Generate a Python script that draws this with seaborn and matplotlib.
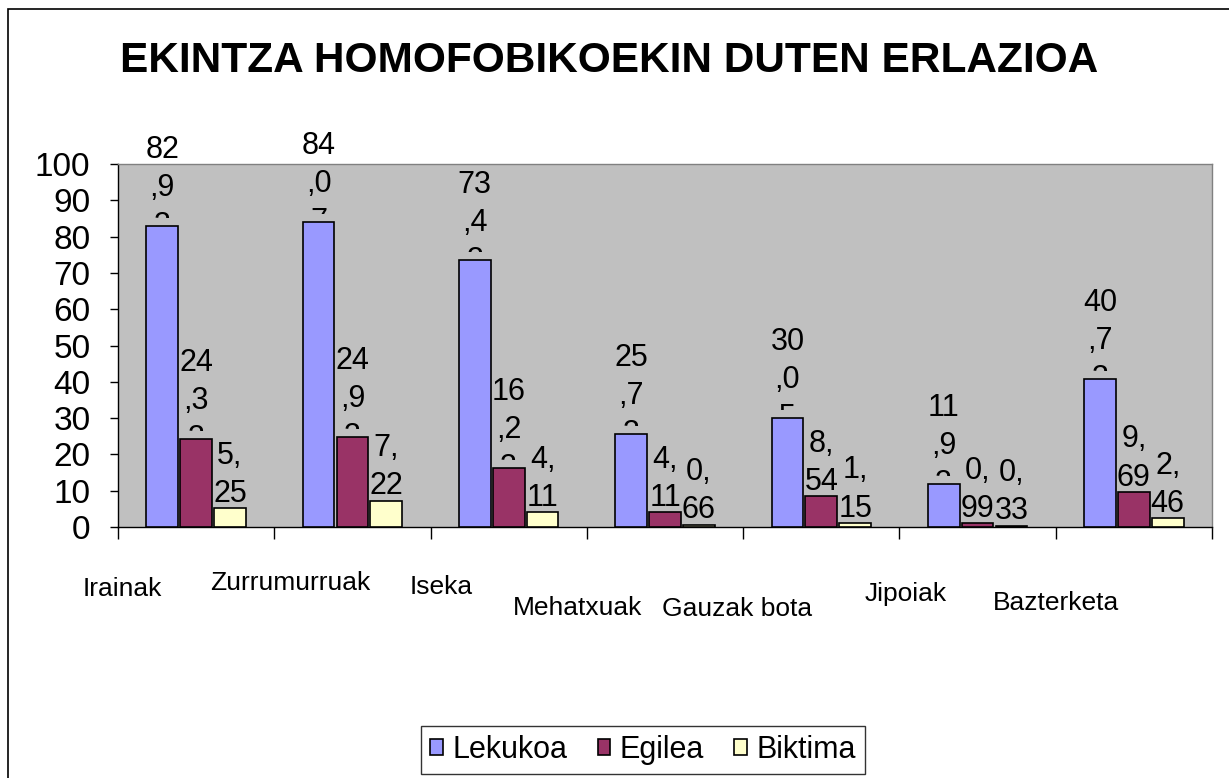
import matplotlib
matplotlib.use('Agg')
import matplotlib.pyplot as plt
import matplotlib.transforms as mtransforms
from matplotlib.patches import Patch, Rectangle
import seaborn as sns
import pandas as pd

# data
categories = ['Irainak', 'Zurrumurruak', 'Iseka', 'Mehatxuak', 'Gauzak bota', 'Jipoiak', 'Bazterketa']
lekukoa = [82.93, 84.07, 73.43, 25.73, 30.05, 11.93, 40.73]
egilea = [24.33, 24.93, 16.23, 4.11, 8.54, 0.99, 9.69]
biktima = [5.25, 7.22, 4.11, 0.66, 1.15, 0.33, 2.46]
series_names = ['Lekukoa', 'Egilea', 'Biktima']
yticks = list(range(0, 101, 10))

colors = {'Lekukoa': '#9999FF', 'Egilea': '#993366', 'Biktima': '#FFFFCC'}

# Excel-like staggered category label placement (offset in categories, y in axes fraction)
label_dx = [-0.47, -0.40, -0.43, -0.56, -0.54, -0.46, -0.50]
label_dy = [-0.171, -0.154, -0.165, -0.223, -0.226, -0.185, -0.209]

df = pd.DataFrame({
    'categoria': categories * 3,
    'balioa': lekukoa + egilea + biktima,
    'mota': [n for n in series_names for _ in categories],
})

plt.rcParams['font.family'] = ['Liberation Sans', 'DejaVu Sans']

fig = plt.figure(figsize=(12.29, 7.78), dpi=100)
ax = fig.add_axes([118 / 1229, 1 - 527 / 778, (1212 - 118) / 1229, (527 - 164) / 778])

sns.barplot(data=df, x='categoria', y='balioa', hue='mota', palette=colors,
            hue_order=series_names, order=categories, width=0.65, gap=0.06,
            edgecolor='black', linewidth=1.2, saturation=1, ax=ax, zorder=3)
ax.get_legend().remove()

ax.set_facecolor('#C0C0C0')
ax.set_xlim(-0.5, len(categories) - 0.5)
ax.set_ylim(0, 100)
ax.set_xlabel('')
ax.set_ylabel('')

ax.set_yticks(yticks)
ax.set_yticklabels([str(t) for t in yticks])
ax.tick_params(axis='y', length=5.8, width=1, pad=14, labelsize=24, direction='out')
ax.set_xticks([i - 0.5 for i in range(len(categories) + 1)])
ax.set_xticklabels([])
ax.tick_params(axis='x', length=8.5, width=1, direction='out')

for side in ['left', 'bottom']:
    ax.spines[side].set_color('black')
    ax.spines[side].set_linewidth(1)
for side in ['top', 'right']:
    ax.spines[side].set_color('#808080')
    ax.spines[side].set_linewidth(1)

# wrapped value labels (Excel wraps them into 2-character rows)
for cont, vals in zip(ax.containers, [lekukoa, egilea, biktima]):
    for bar, v in zip(cont, vals):
        s = f'{v:.2f}'.replace('.', ',')
        chunks = [s[i:i + 2] for i in range(0, len(s), 2)]
        x = bar.get_x() + bar.get_width() / 2
        if len(chunks) > 2:
            txt = ax.annotate('\n'.join(chunks), (x, v), xytext=(0, -11), textcoords='offset points',
                              ha='center', va='bottom', fontsize=22, linespacing=1.35, zorder=4)
            # the label box cuts the last row off a little above the bar
            clip_tr = ax.transData + mtransforms.ScaledTranslation(0, 8 / 100, fig.dpi_scale_trans)
            clip = Rectangle((x - 0.5, v), 1.0, 300, transform=clip_tr)
            txt.set_clip_path(clip)
        else:
            ax.annotate('\n'.join(chunks), (x, v), xytext=(0, -0.5), textcoords='offset points',
                        ha='center', va='bottom', fontsize=22, linespacing=1.35, zorder=4)

trans = mtransforms.blended_transform_factory(ax.transData, ax.transAxes)
for i, cat in enumerate(categories):
    ax.text(i + label_dx[i], label_dy[i], cat, transform=trans, ha='center', va='center',
            fontsize=19)

fig.text(609 / 1229, 1 - 61 / 778, 'EKINTZA HOMOFOBIKOEKIN DUTEN ERLAZIOA',
         ha='center', va='center', fontsize=30.5, fontweight='bold')

handles = [Patch(facecolor=colors[n], edgecolor='black', linewidth=1.2) for n in series_names]
leg = fig.legend(handles, series_names, loc='upper center', bbox_to_anchor=(643 / 1229, 1 - 726 / 778),
                 ncol=3, fontsize=22, frameon=True, fancybox=False, handlelength=0.42,
                 handleheight=0.42, handletextpad=0.3, columnspacing=1.0, borderpad=0.3,
                 borderaxespad=0)
leg.get_frame().set_edgecolor('black')
leg.get_frame().set_linewidth(1)

fig.patches.append(Rectangle((8 / 1229, -0.05), 1.1, 1 - 9 / 778 + 0.05, fill=False,
                             edgecolor='black', linewidth=1.2, transform=fig.transFigure,
                             figure=fig))

fig.savefig('out.png', dpi=100, facecolor='white')
